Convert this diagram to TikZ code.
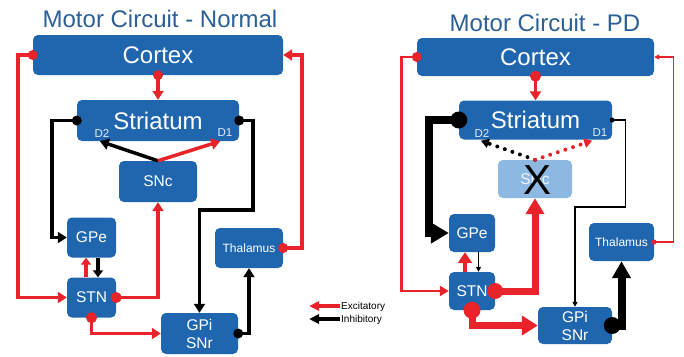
\documentclass[tikz,border=0pt]{standalone}
\usepackage{fontspec}
\setmainfont{Liberation Sans}
\usetikzlibrary{arrows.meta,calc}
\definecolor{boxblue}{HTML}{1F66AE}
\definecolor{fadeblue}{HTML}{8CB8E2}
\definecolor{titleblue}{HTML}{2B5F96}
\definecolor{exred}{HTML}{E8232A}
\begin{document}
\begin{tikzpicture}[x=1pt,y=-1pt,
  box/.style={rectangle,rounded corners=5pt,fill=boxblue,text=white,inner sep=0pt,
    font=\fontsize{15.5}{18}\selectfont},
  bigbox/.style={box,font=\fontsize{24}{28}\selectfont},
  thalbox/.style={box,font=\fontsize{12}{14}\selectfont},
  ttl/.style={text=titleblue,font=\fontsize{24}{28}\selectfont,inner sep=0pt},
  dlab/.style={text=white!88!boxblue,font=\fontsize{11.5}{13}\selectfont,inner sep=0pt},
  lg/.style={font=\fontsize{10}{12}\selectfont,inner sep=0pt,anchor=west},
  exc/.style={draw=exred,line width=3.5pt},
  inh/.style={draw=black,line width=3.5pt},
  hd/.style={-{Triangle[length=9pt,width=11pt]}},
  hdsmall/.style={-{Triangle[length=7pt,width=10pt]}},
  hdthin/.style={-{Triangle[length=5pt,width=5pt]}},
  dotline/.style={line width=4pt,line cap=round,dash pattern=on 0pt off 8pt},
]
\useasboundingbox (0,0) rectangle (684,356);

% ---------- Normal circuit ----------
\node[ttl] (ttlL) at (160,18.5) {Motor Circuit - Normal};
\node[bigbox,minimum width=250pt,minimum height=40pt] (cortexL) at (158,55) {Cortex};
\node[bigbox,minimum width=162pt,minimum height=41pt] (striL) at (158,120.5) {Striatum};
\node[dlab] (d2L) at (102,133) {D2};
\node[dlab] (d1L) at (225,133) {D1};
\node[box,minimum width=78pt,minimum height=41pt] (sncL) at (158,181.5) {SNc};
\node[box,minimum width=49pt,minimum height=40pt] (gpeL) at (91.5,237.5) {GPe};
\node[box,minimum width=49pt,minimum height=40pt] (stnL) at (91.5,297.5) {STN};
\node[box,minimum width=77pt,minimum height=41pt,align=center] (gpiL) at (199.5,333.5) {GPi\\SNr};
\node[thalbox,minimum width=68pt,minimum height=40pt] (thalL) at (249,248) {Thalamus};

\coordinate (aD2L) at ($(striL.south west)+(23,0)$);
\coordinate (aD1L) at ($(striL.south east)+(-19,0)$);

\draw[exc,hd] (cortexL.west) -- ++(-15,0) |- (stnL.west);
\draw[exc,hd] (thalL.east) -- ++(19,0) |- (cortexL.east);
\draw[exc,hd] (cortexL.south) -- (striL.north);
\draw[inh,hd] (striL.west) -- ++(-25,0) |- (gpeL.west);
\draw[inh,hd] (striL.east) -- ++(14,0) -- ++(0,89.5) -| (gpiL.north);
\draw[inh,hd] (sncL.north) -- (aD2L);
\draw[exc,hd] (sncL.north) -- (aD1L);
\draw[exc,hdsmall] ($(stnL.north)+(-5.5,0)$) -- ($(gpeL.south)+(-5.5,0)$);
\draw[inh,hdsmall] ($(gpeL.south)+(6.5,0)$) -- ($(stnL.north)+(6.5,0)$);
\draw[exc,hd] (stnL.east) -| (sncL.south);
\draw[exc,hd] (stnL.south) |- (gpiL.west);
\draw[inh,hd] (gpiL.east) -| (thalL.south);

\fill[exred] (cortexL.west) circle[radius=5pt];
\fill[exred] (thalL.east) circle[radius=5pt];
\fill[exred] (cortexL.south) circle[radius=5pt];
\fill[exred] (stnL.east) circle[radius=5.5pt];
\fill[exred] (stnL.south) circle[radius=5.5pt];
\fill[black] (striL.west) circle[radius=5pt];
\fill[black] (striL.east) circle[radius=5pt];
\fill[black] (gpiL.east) circle[radius=5pt];

% ---------- Legend ----------
\coordinate (exTail) at (340,306);
\coordinate (exTip) at (309,306);
\coordinate (inTail) at (340,319);
\coordinate (inTip) at (309,319);
\draw[draw=exred,line width=3.5pt,-{Triangle[length=10pt,width=9pt]}] (exTail) -- (exTip);
\draw[draw=black,line width=3.5pt,-{Triangle[length=10pt,width=9pt]}] (inTail) -- (inTip);
\node[lg] (exLab) at (341,306.5) {Excitatory};
\node[lg] (inLab) at (341,319.5) {Inhibitory};

% ---------- Parkinsonian circuit ----------
\node[ttl] (ttlR) at (545,23) {Motor Circuit - PD};
\node[bigbox,minimum width=237pt,minimum height=38pt] (cortexR) at (535.5,57) {Cortex};
\node[bigbox,minimum width=153pt,minimum height=39pt] (striR) at (535.5,120) {Striatum};
\node[dlab] (d2R) at (482,133) {D2};
\node[dlab] (d1R) at (600,133) {D1};
\node[box,fill=fadeblue,text=white!85!fadeblue,minimum width=74pt,minimum height=38pt] (sncR) at (535,179) {SNc};
\node[font=\fontsize{42}{44}\selectfont,inner sep=0pt] (xR) at (537.5,180) {X};
\node[box,minimum width=46pt,minimum height=38pt] (gpeR) at (472,233) {GPe};
\node[box,minimum width=46pt,minimum height=38pt] (stnR) at (472,291) {STN};
\node[box,minimum width=74pt,minimum height=37pt,align=center] (gpiR) at (575,325.5) {GPi\\SNr};
\node[thalbox,minimum width=65pt,minimum height=38pt] (thalR) at (621.5,242) {Thalamus};

\coordinate (aD2R) at ($(striR.south west)+(22,1)$);
\coordinate (aD1R) at ($(striR.south east)+(-20,1)$);

\draw[draw=exred,line width=2.8pt,-{Triangle[length=9pt,width=10pt]}] (cortexR.west) -- ++(-15,0) |- (stnR.west);
\draw[draw=exred,line width=1.4pt,hdthin] (thalR.east) -- ++(19,0) |- (cortexR.east);
\draw[exc,hd] (cortexR.south) -- (striR.north);
\draw[draw=black,line width=8pt,-{Triangle[length=18pt,width=20pt]}] (striR.west) -- ++(-30,0) |- (gpeR.west);
\draw[draw=black,line width=1.3pt,hdthin] (striR.east) -- ++(13,0) -- ++(0,87) -| (gpiR.north);
\draw[draw=black,dotline,-{Triangle[length=8pt,width=9pt]}] (sncR.north) -- (aD2R);
\draw[draw=exred,dotline,-{Triangle[length=8pt,width=9pt]}] (sncR.north) -- (aD1R);
\draw[draw=exred,line width=4pt,-{Triangle[length=11pt,width=14pt]}] ($(stnR.north)+(-7,0)$) -- ($(gpeR.south)+(-7,0)$);
\draw[draw=black,line width=1.3pt,hdthin] ($(gpeR.south)+(6.5,0)$) -- ($(stnR.north)+(6.5,0)$);
\draw[draw=exred,line width=7pt,-{Triangle[length=16pt,width=18pt]}] (stnR.east) -| (sncR.south);
\draw[draw=exred,line width=7pt,-{Triangle[length=16pt,width=19pt]}] (stnR.south) |- (gpiR.west);
\draw[draw=black,line width=8pt,-{Triangle[length=17pt,width=18pt]}] (gpiR.east) -| (thalR.south);

\fill[exred] (cortexR.west) circle[radius=5pt];
\fill[exred] (thalR.east) circle[radius=2.5pt];
\fill[exred] (cortexR.south) circle[radius=5.5pt];
\fill[exred] (stnR.east) circle[radius=8pt];
\fill[exred] (stnR.south) circle[radius=8.5pt];
\fill[black] (striR.west) circle[radius=8.5pt];
\fill[black] (striR.east) circle[radius=2.5pt];
\fill[black] (gpiR.east) circle[radius=8.5pt];
\end{tikzpicture}
\end{document}
